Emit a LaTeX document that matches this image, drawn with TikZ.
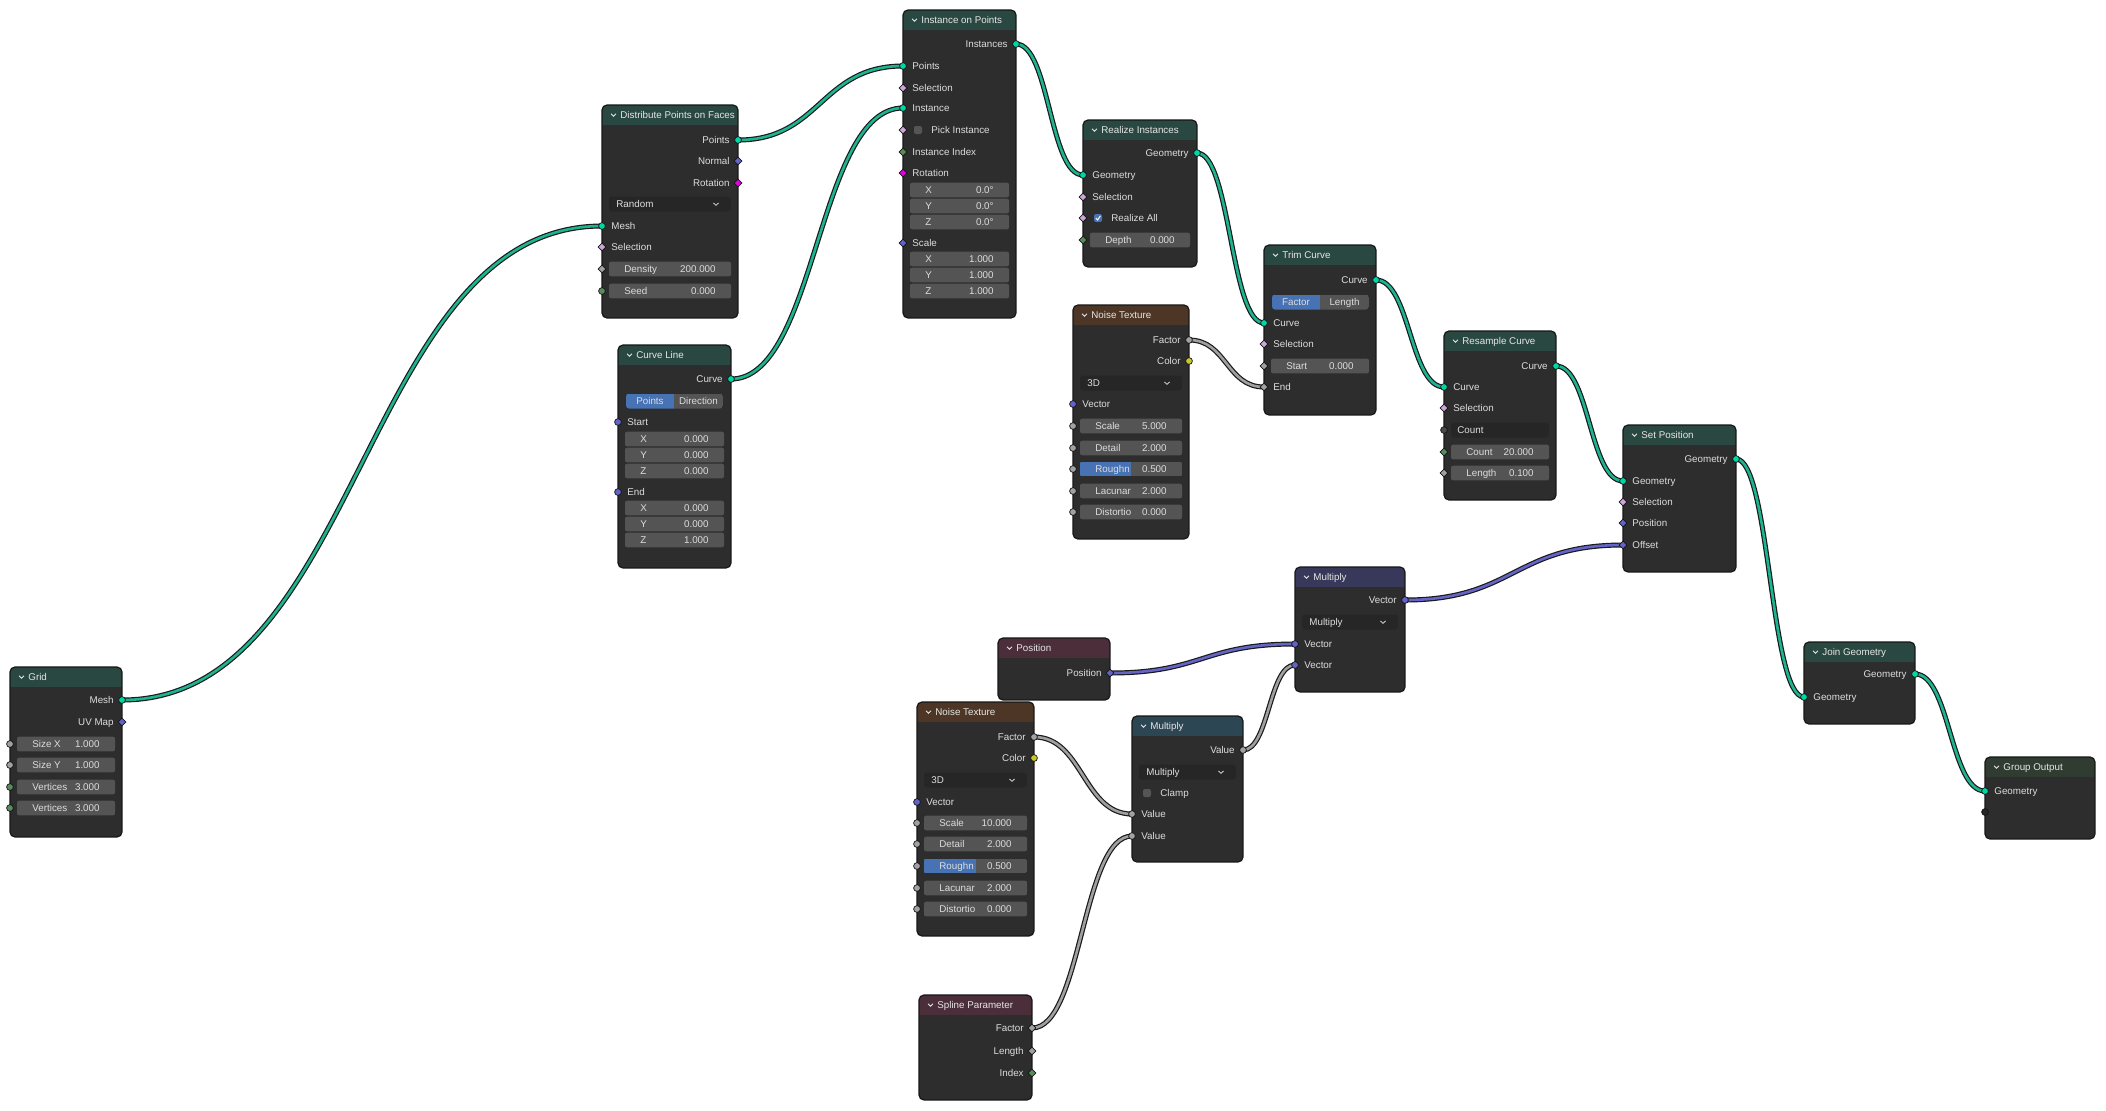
\documentclass[tikz,border=0pt]{standalone}
\usepackage{fontspec}
\setmainfont{Liberation Sans}
\usetikzlibrary{shapes.geometric,calc}
\pgfdeclarelayer{bg}
\pgfdeclarelayer{links}
\pgfsetlayers{bg,links,main}
\definecolor{nbody}{HTML}{2D2D2D}
\definecolor{nborder}{HTML}{161616}
\definecolor{hgeo}{HTML}{2A4842}
\definecolor{htex}{HTML}{4D3626}
\definecolor{hinp}{HTML}{4C2E3B}
\definecolor{hvec}{HTML}{38385A}
\definecolor{hmath}{HTML}{2C4653}
\definecolor{hout}{HTML}{303B31}
\definecolor{fieldc}{HTML}{545454}
\definecolor{dropc}{HTML}{262626}
\definecolor{chkc}{HTML}{555555}
\definecolor{selblue}{HTML}{4772B3}
\definecolor{txt}{HTML}{DDDDDD}
\definecolor{ttxt}{HTML}{E6E6E6}
\definecolor{sockedge}{HTML}{141414}
\definecolor{geo}{HTML}{00D6A3}
\definecolor{vec}{HTML}{6363C7}
\definecolor{flt}{HTML}{A1A1A1}
\definecolor{int}{HTML}{598C5C}
\definecolor{bool}{HTML}{CCA6D6}
\definecolor{rot}{HTML}{E100E1}
\definecolor{col}{HTML}{C7C729}
\definecolor{menuc}{HTML}{4A4A4A}
\definecolor{emptyc}{HTML}{262626}
\definecolor{geoL}{HTML}{1DB591}
\definecolor{vecL}{HTML}{6565C8}
\definecolor{fltL}{HTML}{A0A0A0}
\definecolor{linkedge}{HTML}{1A1A1A}
\tikzset{
 lbl/.style={inner sep=0pt, text=txt, font=\fontsize{4.9pt}{5.5pt}\selectfont},
 ttl/.style={lbl, text=ttxt},
 sk/.style={circle, fill=#1, draw=sockedge, line width=0.35pt, inner sep=0pt, minimum size=3.4pt},
 dk/.style={diamond, fill=#1, draw=sockedge, line width=0.35pt, inner sep=0pt, minimum size=4pt},
 link/.style={draw=linkedge, line width=0.6pt, double=#1, double distance=1.3pt,
  to path={let \p1=(\tikztostart), \p2=(\tikztotarget), \n1={max(0.5*abs(\x2-\x1),8)} in .. controls (\x1+\n1,\y1) and (\x2-\n1,\y2) .. (\p2)}}
}
% node frame: name left top right bottom headercolor title
\newcommand\bnode[7]{%
 \begin{scope}
  \clip[rounded corners=2.5pt] (#2,#3) rectangle (#4,#5);
  \fill[nbody] (#2,#3) rectangle (#4,#5);
  \fill[#6] (#2,#3) rectangle (#4,#3+20);
 \end{scope}
 \draw[nborder, line width=0.6pt, rounded corners=2.5pt] (#2,#3) rectangle (#4,#5);
 \draw[ttxt, line width=0.45pt] (#2+9,#3+8.8) -- (#2+11.5,#3+11.3) -- (#2+14,#3+8.8);
 \node[ttl, anchor=base west] (#1) at (#2+18,#3+13.6) {#7};
}
\newcommand\outsock[6]{%
 \node[lbl, anchor=base east] (#1-l) at (#2-8,#3+3.6) {#4};
 \node[#5=#6] (#1) at (#2,#3) {};
}
\newcommand\insock[6]{%
 \node[lbl, anchor=base west] (#1-l) at (#2+9,#3+3.6) {#4};
 \node[#5=#6] (#1) at (#2,#3) {};
}
\newcommand\fieldbx[6]{%
 \fill[fieldc, rounded corners=1pt] (#2+7,#4-7.3) rectangle (#3-7,#4+7.3);
 \node[lbl, anchor=base west] (#1-l) at (#2+22,#4+3.6) {#5};
 \node[lbl, anchor=base east] (#1-v) at (#3-22,#4+3.6) {#6};
}
\newcommand\fieldsk[8]{%
 \fieldbx{#1}{#2}{#3}{#4}{#5}{#6}
 \node[#7=#8] (#1) at (#2,#4) {};
}
\newcommand\roughsk[5]{%
 \begin{scope}
  \clip[rounded corners=1pt] (#2+7,#4-7.3) rectangle (#3-7,#4+7.3);
  \fill[fieldc] (#2+7,#4-7.3) rectangle (#3-7,#4+7.3);
  \fill[selblue] (#2+7,#4-7.3) rectangle ({(#2+#3)/2},#4+7.3);
 \end{scope}
 \node[lbl, anchor=base west] (#1-l) at (#2+22,#4+3.6) {Roughn};
 \node[lbl, anchor=base east] (#1-v) at (#3-22,#4+3.6) {#5};
 \node[sk=flt] (#1) at (#2,#4) {};
}
\newcommand\dropbx[5]{%
 \fill[dropc, rounded corners=1.5pt] (#2+7,#4-7.5) rectangle (#3-7,#4+7.5);
 \node[lbl, anchor=base west] (#1) at (#2+14,#4+3.6) {#5};
 \draw[txt, line width=0.4pt] (#3-24.5,#4-1) -- (#3-22,#4+1.3) -- (#3-19.5,#4-1);
}
\newcommand\twobtn[7]{%
 \begin{scope}
  \clip[rounded corners=1.5pt] (#2,#5-7.5) rectangle (#4,#5+7.5);
  \fill[selblue] (#2,#5-7.5) rectangle (#3,#5+7.5);
  \fill[fieldc] (#3,#5-7.5) rectangle (#4,#5+7.5);
 \end{scope}
 \node[lbl, anchor=base] (#1-a) at ({(#2+#3)/2},#5+3.6) {#6};
 \node[lbl, anchor=base] (#1-b) at ({(#3+#4)/2},#5+3.6) {#7};
}
\newcommand\chk[5]{%
 \ifnum#5=1
  \fill[selblue, rounded corners=1pt] (#2+11,#3-4) rectangle (#2+19,#3+4);
  \draw[white, line width=0.5pt] (#2+12.8,#3) -- (#2+14.6,#3+2) -- (#2+17.4,#3-2.2);
 \else
  \fill[chkc, rounded corners=1pt] (#2+11,#3-4) rectangle (#2+19,#3+4);
 \fi
 \node[lbl, anchor=base west] (#1-l) at (#2+28,#3+3.6) {#4};
}
\begin{document}
\begin{tikzpicture}[x=0.5pt,y=-0.5pt]
\begin{pgfonlayer}{bg}
\fill[white] (0,0) rectangle (2106,1110);
\end{pgfonlayer}
\useasboundingbox (0,0) rectangle (2106,1110);

% Grid
\bnode{grid}{10}{667}{122}{837}{hgeo}{Grid}
\outsock{grid-mesh}{122}{700}{Mesh}{sk}{geo}
\outsock{grid-uv}{122}{722}{UV Map}{dk}{vec}
\fieldsk{grid-sx}{10}{122}{744}{Size X}{1.000}{sk}{flt}
\fieldsk{grid-sy}{10}{122}{765}{Size Y}{1.000}{sk}{flt}
\fieldsk{grid-vx}{10}{122}{787}{Vertices}{3.000}{sk}{int}
\fieldsk{grid-vy}{10}{122}{808}{Vertices}{3.000}{sk}{int}

% Distribute Points on Faces
\bnode{dist}{602}{105}{738}{318}{hgeo}{Distribute Points on Faces}
\outsock{dist-points}{738}{140}{Points}{sk}{geo}
\outsock{dist-normal}{738}{161}{Normal}{dk}{vec}
\outsock{dist-rot}{738}{183}{Rotation}{dk}{rot}
\dropbx{dist-mode}{602}{738}{204}{Random}
\insock{dist-mesh}{602}{226}{Mesh}{sk}{geo}
\insock{dist-sel}{602}{247}{Selection}{dk}{bool}
\fieldsk{dist-dens}{602}{738}{269}{Density}{200.000}{dk}{flt}
\fieldsk{dist-seed}{602}{738}{291}{Seed}{0.000}{sk}{int}

% Curve Line
\bnode{cline}{618}{345}{731}{568}{hgeo}{Curve Line}
\outsock{cline-curve}{731}{379}{Curve}{sk}{geo}
\twobtn{cline-mode}{626}{674}{723}{401}{Points}{Direction}
\insock{cline-start}{618}{422}{Start}{sk}{vec}
\fieldbx{cline-sx}{618}{731}{439}{X}{0.000}
\fieldbx{cline-sy}{618}{731}{455}{Y}{0.000}
\fieldbx{cline-sz}{618}{731}{471}{Z}{0.000}
\insock{cline-end}{618}{492}{End}{sk}{vec}
\fieldbx{cline-ex}{618}{731}{508}{X}{0.000}
\fieldbx{cline-ey}{618}{731}{524}{Y}{0.000}
\fieldbx{cline-ez}{618}{731}{540}{Z}{1.000}

% Instance on Points
\bnode{iop}{903}{10}{1016}{318}{hgeo}{Instance on Points}
\outsock{iop-out}{1016}{44}{Instances}{sk}{geo}
\insock{iop-points}{903}{66}{Points}{sk}{geo}
\insock{iop-sel}{903}{88}{Selection}{dk}{bool}
\insock{iop-inst}{903}{108}{Instance}{sk}{geo}
\chk{iop-pick}{903}{130}{Pick Instance}{0}
\node[dk=bool] (iop-picks) at (903,130) {};
\insock{iop-idx}{903}{152}{Instance Index}{dk}{int}
\insock{iop-rot}{903}{173}{Rotation}{dk}{rot}
\fieldbx{iop-rx}{903}{1016}{190}{X}{0.0°}
\fieldbx{iop-ry}{903}{1016}{206}{Y}{0.0°}
\fieldbx{iop-rz}{903}{1016}{222}{Z}{0.0°}
\insock{iop-scale}{903}{243}{Scale}{dk}{vec}
\fieldbx{iop-sx}{903}{1016}{259}{X}{1.000}
\fieldbx{iop-sy}{903}{1016}{275}{Y}{1.000}
\fieldbx{iop-sz}{903}{1016}{291}{Z}{1.000}

% Realize Instances
\bnode{real}{1083}{120}{1197}{267}{hgeo}{Realize Instances}
\outsock{real-out}{1197}{153}{Geometry}{sk}{geo}
\insock{real-in}{1083}{175}{Geometry}{sk}{geo}
\insock{real-sel}{1083}{197}{Selection}{dk}{bool}
\chk{real-all}{1083}{218}{Realize All}{1}
\node[dk=bool] (real-alls) at (1083,218) {};
\fieldsk{real-depth}{1083}{1197}{240}{Depth}{0.000}{dk}{int}

% Noise Texture 1
\bnode{noise1}{1073}{305}{1189}{539}{htex}{Noise Texture}
\outsock{noise1-fac}{1189}{340}{Factor}{sk}{flt}
\outsock{noise1-col}{1189}{361}{Color}{sk}{col}
\dropbx{noise1-dim}{1073}{1189}{383}{3D}
\insock{noise1-vec}{1073}{404}{Vector}{sk}{vec}
\fieldsk{noise1-scale}{1073}{1189}{426}{Scale}{5.000}{sk}{flt}
\fieldsk{noise1-det}{1073}{1189}{448}{Detail}{2.000}{sk}{flt}
\roughsk{noise1-rough}{1073}{1189}{469}{0.500}
\fieldsk{noise1-lac}{1073}{1189}{491}{Lacunar}{2.000}{sk}{flt}
\fieldsk{noise1-dist}{1073}{1189}{512}{Distortio}{0.000}{sk}{flt}

% Trim Curve
\bnode{trim}{1264}{245}{1376}{415}{hgeo}{Trim Curve}
\outsock{trim-out}{1376}{280}{Curve}{sk}{geo}
\twobtn{trim-mode}{1272}{1320}{1369}{302}{Factor}{Length}
\insock{trim-in}{1264}{323}{Curve}{sk}{geo}
\insock{trim-sel}{1264}{344}{Selection}{dk}{bool}
\fieldsk{trim-start}{1264}{1376}{366}{Start}{0.000}{dk}{flt}
\insock{trim-end}{1264}{387}{End}{dk}{flt}

% Resample Curve
\bnode{resa}{1444}{331}{1556}{500}{hgeo}{Resample Curve}
\outsock{resa-out}{1556}{366}{Curve}{sk}{geo}
\insock{resa-in}{1444}{387}{Curve}{sk}{geo}
\insock{resa-sel}{1444}{408}{Selection}{dk}{bool}
\fill[dropc, rounded corners=1.5pt] (1451,422.5) rectangle (1549,437.5);
\node[lbl, anchor=base west] (resa-mode-l) at (1457,433.6) {Count};
\node[sk=menuc] (resa-mode) at (1444,430) {};
\fieldsk{resa-count}{1444}{1556}{452}{Count}{20.000}{dk}{int}
\fieldsk{resa-len}{1444}{1556}{473}{Length}{0.100}{dk}{flt}

% Set Position
\bnode{setp}{1623}{425}{1736}{572}{hgeo}{Set Position}
\outsock{setp-out}{1736}{459}{Geometry}{sk}{geo}
\insock{setp-in}{1623}{481}{Geometry}{sk}{geo}
\insock{setp-sel}{1623}{502}{Selection}{dk}{bool}
\insock{setp-pos}{1623}{523}{Position}{dk}{vec}
\insock{setp-offset}{1623}{545}{Offset}{dk}{vec}

% Multiply (vector)
\bnode{multv}{1295}{567}{1405}{692}{hvec}{Multiply}
\outsock{multv-out}{1405}{600}{Vector}{sk}{vec}
\dropbx{multv-op}{1295}{1405}{622}{Multiply}
\insock{multv-a}{1295}{644}{Vector}{sk}{vec}
\insock{multv-b}{1295}{665}{Vector}{sk}{vec}

% Position
\bnode{posn}{998}{638}{1110}{700}{hinp}{Position}
\outsock{posn-out}{1110}{673}{Position}{dk}{vec}

% Multiply (math)
\bnode{multm}{1132}{716}{1243}{862}{hmath}{Multiply}
\outsock{multm-out}{1243}{750}{Value}{sk}{flt}
\dropbx{multm-op}{1132}{1243}{772}{Multiply}
\chk{multm-clamp}{1132}{793}{Clamp}{0}
\insock{multm-a}{1132}{814}{Value}{sk}{flt}
\insock{multm-b}{1132}{836}{Value}{sk}{flt}

% Noise Texture 2
\bnode{noise2}{917}{702}{1034}{936}{htex}{Noise Texture}
\outsock{noise2-fac}{1034}{737}{Factor}{sk}{flt}
\outsock{noise2-col}{1034}{758}{Color}{sk}{col}
\dropbx{noise2-dim}{917}{1034}{780}{3D}
\insock{noise2-vec}{917}{802}{Vector}{sk}{vec}
\fieldsk{noise2-scale}{917}{1034}{823}{Scale}{10.000}{sk}{flt}
\fieldsk{noise2-det}{917}{1034}{844}{Detail}{2.000}{sk}{flt}
\roughsk{noise2-rough}{917}{1034}{866}{0.500}
\fieldsk{noise2-lac}{917}{1034}{888}{Lacunar}{2.000}{sk}{flt}
\fieldsk{noise2-dist}{917}{1034}{909}{Distortio}{0.000}{sk}{flt}

% Spline Parameter
\bnode{spl}{919}{995}{1032}{1100}{hinp}{Spline Parameter}
\outsock{spl-fac}{1032}{1028}{Factor}{dk}{flt}
\outsock{spl-len}{1032}{1051}{Length}{dk}{flt}
\outsock{spl-idx}{1032}{1073}{Index}{dk}{int}

% Join Geometry
\bnode{join}{1804}{642}{1915}{724}{hgeo}{Join Geometry}
\outsock{join-out}{1915}{674}{Geometry}{sk}{geo}
\insock{join-in}{1804}{697}{Geometry}{sk}{geo}

% Group Output
\bnode{gout}{1985}{757}{2095}{839}{hout}{Group Output}
\insock{gout-geo}{1985}{791}{Geometry}{sk}{geo}
\node[sk=emptyc] (gout-empty) at (1985,812) {};

% links
\begin{pgfonlayer}{links}
\draw[link=geoL] (grid-mesh.center) to (dist-mesh.center);
\draw[link=geoL] (dist-points.center) to (iop-points.center);
\draw[link=geoL] (cline-curve.center) to (iop-inst.center);
\draw[link=geoL] (iop-out.center) to (real-in.center);
\draw[link=geoL] (real-out.center) to (trim-in.center);
\draw[link=fltL] (noise1-fac.center) to (trim-end.center);
\draw[link=geoL] (trim-out.center) to (resa-in.center);
\draw[link=geoL] (resa-out.center) to (setp-in.center);
\draw[link=vecL] (multv-out.center) to (setp-offset.center);
\draw[link=vecL] (posn-out.center) to (multv-a.center);
\draw[link=fltL] (multm-out.center) to (multv-b.center);
\draw[link=fltL] (noise2-fac.center) to (multm-a.center);
\draw[link=fltL] (spl-fac.center) to (multm-b.center);
\draw[link=geoL] (setp-out.center) to (join-in.center);
\draw[link=geoL] (join-out.center) to (gout-geo.center);
\end{pgfonlayer}
\end{tikzpicture}
\end{document}
